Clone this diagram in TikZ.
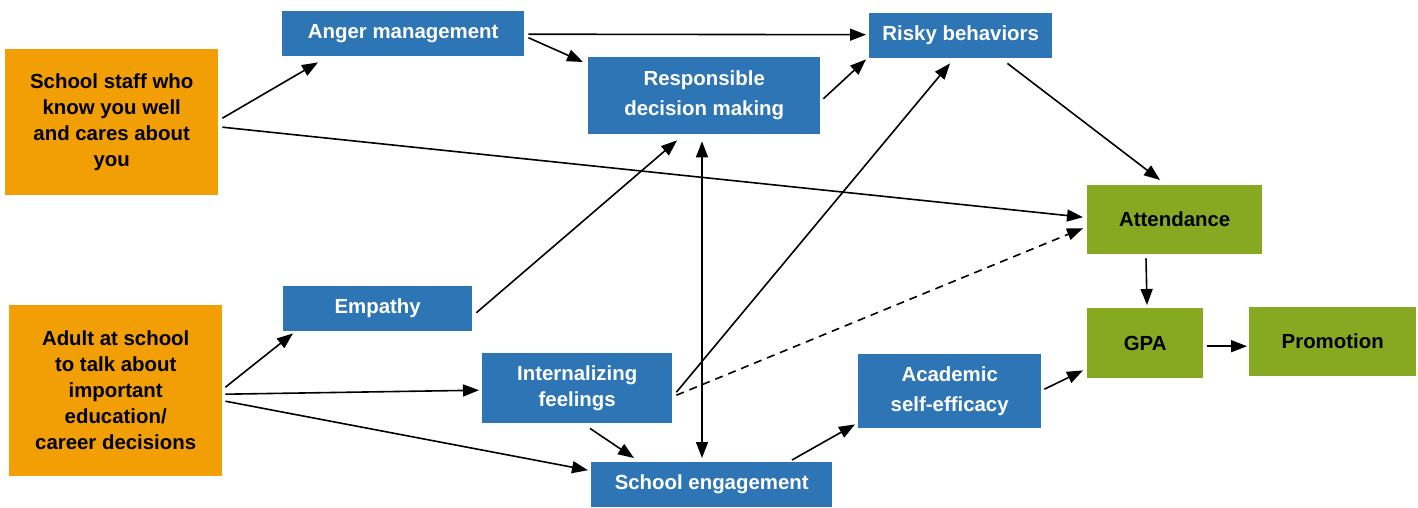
\documentclass[tikz,border=0pt]{standalone}
\usepackage{fontspec}
\setmainfont{Liberation Sans}
\usetikzlibrary{arrows.meta}
\definecolor{boxblue}{HTML}{2E75B6}
\definecolor{boxorange}{HTML}{F29F05}
\definecolor{boxgreen}{HTML}{87A922}

\begin{document}
\begin{tikzpicture}[x=1pt,y=-1pt,
  base/.style={rectangle, inner sep=0pt, anchor=north west, align=center,
    font=\fontsize{20.4}{26}\selectfont\bfseries},
  wide/.style={font=\fontsize{20.4}{30}\selectfont\bfseries},
  med/.style={base, fill=boxblue, text=white},
  src/.style={base, fill=boxorange, text=black},
  outcome/.style={base, fill=boxgreen, text=black},
  arr/.style={draw=black, line width=1.6pt, -{Triangle[length=16pt,width=12pt]}},
  darr/.style={draw=black, line width=1.6pt, {Triangle[length=16pt,width=12pt]}-{Triangle[length=16pt,width=12pt]}},
]
\useasboundingbox[fill=white] (0,0) rectangle (1418,508);

% sources
\node[src, minimum width=213pt, minimum height=146pt] (staff) at (5,49)
  {School staff who\\know you well\\and cares about\\you};
\node[src, minimum width=213pt, minimum height=171pt] (adult) at (9,305)
  {Adult at school\\to talk about\\important\\education/\\career decisions};

% mediators
\node[med, minimum width=242pt, minimum height=45pt] (anger) at (282,11) {Anger management};
\node[med, wide, minimum width=232pt, minimum height=77pt] (resp) at (588,57) {Responsible\\decision making};
\node[med, minimum width=183pt, minimum height=45pt] (risky) at (869,13) {Risky behaviors};
\node[med, minimum width=189pt, minimum height=45pt] (empathy) at (283,286) {Empathy};
\node[med, minimum width=190pt, minimum height=70pt] (internal) at (482,353) {Internalizing\\feelings};
\node[med, wide, minimum width=183pt, minimum height=74pt] (acad) at (858,354) {Academic\\self-efficacy};
\node[med, minimum width=241pt, minimum height=45pt] (engage) at (591,462) {School engagement};

% outcomes
\node[outcome, minimum width=175pt, minimum height=69pt] (attend) at (1087,185) {Attendance};
\node[outcome, minimum width=116pt, minimum height=70pt] (gpa) at (1087,308) {GPA};
\node[outcome, minimum width=167pt, minimum height=69pt] (promo) at (1249,307) {Promotion};

% paths
\draw[arr] ([shift={(4,-4)}]staff.east) -- ([shift={(36,6)}]anger.south west);
\draw[arr] ([shift={(4,5)}]staff.east) -- ([shift={(-4,-2.5)}]attend.west);
\draw[arr] ([shift={(4,0.5)}]anger.east) -- ([shift={(-3,-1)}]risky.west);
\draw[arr] ([shift={(4,4)}]anger.east) -- ([shift={(-5,5)}]resp.north west);
\draw[arr] ([shift={(3,3)}]resp.east) -- ([shift={(-3,1)}]risky.south west);
\draw[arr] ([shift={(-45,5)}]risky.south east) -- ([shift={(73,-5)}]attend.north west);
\draw[arr] ([shift={(4,4)}]empathy.east) -- ([shift={(89,6)}]resp.south west);
\draw[darr] ([shift={(114,7)}]resp.south west) -- ([shift={(111,-4)}]engage.north west);
\draw[arr] ([shift={(4,4)}]internal.east) -- ([shift={(81,5)}]risky.south west);
\draw[arr, dash pattern=on 8pt off 6pt] ([shift={(4,7)}]internal.east) -- ([shift={(-4,8.5)}]attend.west);
\draw[arr] ([shift={(108,5)}]internal.south west) -- ([shift={(43,-4)}]engage.north west);
\draw[arr] ([shift={(3,-3.5)}]adult.east) -- ([shift={(10,2)}]empathy.south west);
\draw[arr] ([shift={(3,3.5)}]adult.east) -- ([shift={(-3,2)}]internal.west);
\draw[arr] ([shift={(3,10.5)}]adult.east) -- ([shift={(-3,-14.5)}]engage.west);
\draw[arr] ([shift={(201,-2)}]engage.north west) -- ([shift={(-3,-4)}]acad.south west);
\draw[arr] ([shift={(3,-2)}]acad.east) -- ([shift={(-4,-8)}]gpa.south west);
\draw[arr] ([shift={(59,4)}]attend.south west) -- ([shift={(60,-3)}]gpa.north west);
\draw[arr] ([shift={(4,3)}]gpa.east) -- ([shift={(-2,4.5)}]promo.west);
\end{tikzpicture}
\end{document}
